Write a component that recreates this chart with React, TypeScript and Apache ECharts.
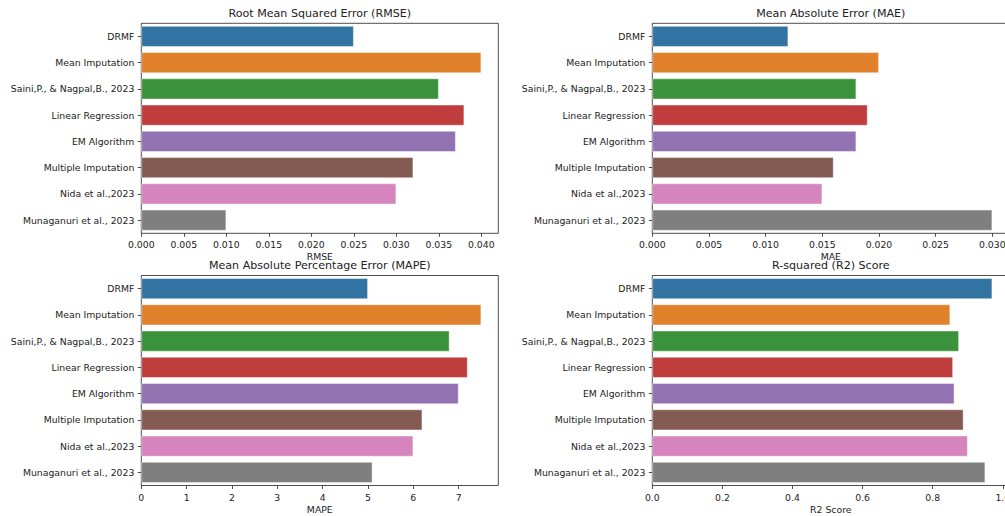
import React, { useEffect, useRef } from "react";
import * as echarts from "echarts";

// Methods compared on each metric (top to bottom)
const categories = [
  "DRMF",
  "Mean Imputation",
  "Saini,P., & Nagpal,B., 2023",
  "Linear Regression",
  "EM Algorithm",
  "Multiple Imputation",
  "Nida et al.,2023",
  "Munaganuri et al., 2023",
];

const barColors = ["#3274a1", "#e1812c", "#3a923a", "#c03d3e", "#9372b2", "#845b53", "#d684bd", "#7f7f7f"];

const rmseValues = [0.025, 0.04, 0.035, 0.038, 0.037, 0.032, 0.03, 0.01];
const maeValues = [0.012, 0.02, 0.018, 0.019, 0.018, 0.016, 0.015, 0.03];
const mapeValues = [5.0, 7.5, 6.8, 7.2, 7.0, 6.2, 6.0, 5.1];
const r2Values = [0.97, 0.85, 0.875, 0.858, 0.862, 0.888, 0.9, 0.95];

const rmseTicks = [0, 0.005, 0.01, 0.015, 0.02, 0.025, 0.03, 0.035, 0.04];
const maeTicks = [0, 0.005, 0.01, 0.015, 0.02, 0.025, 0.03];
const mapeTicks = [0, 1, 2, 3, 4, 5, 6, 7];
const r2Ticks = [0, 0.2, 0.4, 0.6, 0.8, 1.0];

const FONT = "DejaVu Sans";
const INK = "#222222";
const TICK_FONT = 9.3;
const TITLE_FONT = 11.1;

type Panel = {
  title: string;
  axisName: string;
  values: number[];
  ticks: number[];
  digits: number;
  left: number;
  top: number;
};

const panels: Panel[] = [
  { title: "Root Mean Squared Error (RMSE)", axisName: "RMSE", values: rmseValues, ticks: rmseTicks, digits: 3, left: 141.3, top: 23.3 },
  { title: "Mean Absolute Error (MAE)", axisName: "MAE", values: maeValues, ticks: maeTicks, digits: 3, left: 652.3, top: 23.3 },
  { title: "Mean Absolute Percentage Error (MAPE)", axisName: "MAPE", values: mapeValues, ticks: mapeTicks, digits: 0, left: 141.3, top: 275.5 },
  { title: "R-squared (R2) Score", axisName: "R2 Score", values: r2Values, ticks: r2Ticks, digits: 1, left: 652.3, top: 275.5 },
];

const PANEL_W = 357;
const PANEL_H = 210;

export default function App() {
  const ref = useRef<HTMLDivElement>(null);

  useEffect(() => {
    if (!ref.current) return;
    const chart = echarts.init(ref.current, undefined, { renderer: "svg" });

    const grids = panels.map((p) => ({
      left: p.left,
      top: p.top,
      width: PANEL_W,
      height: PANEL_H,
      show: true,
      borderColor: INK,
      borderWidth: 0.8,
      backgroundColor: "transparent",
      containLabel: false,
      outerBoundsMode: "none",
    }));

    const xAxes = panels.map((p, i) => ({
      type: "value",
      gridIndex: i,
      min: 0,
      // 5% headroom beyond the longest bar
      max: Math.max(...p.values) * 1.05,
      name: p.axisName,
      nameLocation: "middle",
      nameGap: 19,
      nameTextStyle: { fontFamily: FONT, fontSize: TICK_FONT, color: INK },
      axisLine: { show: false },
      splitLine: { show: false },
      axisTick: {
        show: true,
        length: 3.5,
        customValues: p.ticks,
        lineStyle: { color: INK, width: 0.8 },
      },
      axisLabel: {
        customValues: p.ticks,
        margin: 7,
        fontFamily: FONT,
        fontSize: TICK_FONT,
        color: INK,
        formatter: (v: number) => v.toFixed(p.digits),
      },
    }));

    const yAxes = panels.map((_, i) => ({
      type: "category",
      gridIndex: i,
      data: categories,
      inverse: true,
      axisLine: { show: false },
      splitLine: { show: false },
      axisTick: {
        show: true,
        alignWithLabel: true,
        length: 3.5,
        lineStyle: { color: INK, width: 0.8 },
      },
      axisLabel: {
        margin: 7,
        fontFamily: FONT,
        fontSize: TICK_FONT,
        color: INK,
      },
    }));

    const series = panels.map((p, i) => ({
      type: "bar",
      xAxisIndex: i,
      yAxisIndex: i,
      barCategoryGap: "20%",
      data: p.values.map((v, j) => ({
        value: v,
        itemStyle: {
          color: barColors[j],
          borderColor: "rgba(255,255,255,0.55)",
          borderWidth: 0.8,
        },
      })),
    }));

    const titles = panels.map((p) => ({
      type: "text",
      x: p.left + PANEL_W / 2,
      y: p.top - 10,
      style: {
        text: p.title,
        fontFamily: FONT,
        fontSize: TITLE_FONT,
        fill: INK,
        textAlign: "center",
        textVerticalAlign: "middle",
      },
    }));

    chart.setOption({
      animation: false,
      backgroundColor: "#ffffff",
      grid: grids,
      xAxis: xAxes,
      yAxis: yAxes,
      series,
      graphic: titles,
    });

    return () => chart.dispose();
  }, []);

  return (
    <div
      ref={ref}
      style={{ position: "absolute", left: 0, top: 0, width: 1005, height: 516 }}
    />
  );
}
